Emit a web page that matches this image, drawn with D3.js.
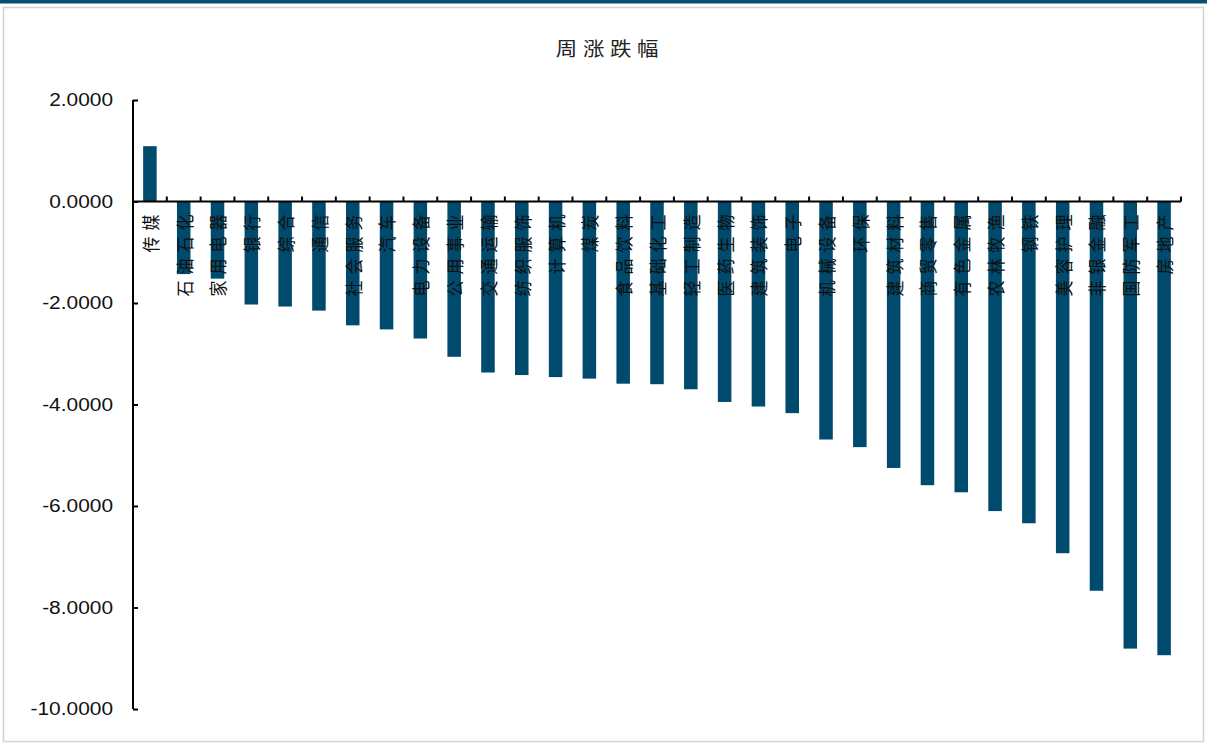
<!DOCTYPE html>
<html>
<head>
<meta charset="utf-8">
<script src="https://cdn.jsdelivr.net/npm/d3@7"></script>
<style>
  html, body { margin: 0; padding: 0; background: #fff; }
  svg { display: block; }
</style>
</head>
<body>
<svg id="chart" width="1207" height="743"></svg>
<script>
// 申万一级行业周涨跌幅（%）
const categories = ["传媒", "石油石化", "家用电器", "银行", "综合", "通信", "社会服务", "汽车", "电力设备", "公用事业",
  "交通运输", "纺织服饰", "计算机", "煤炭", "食品饮料", "基础化工", "轻工制造", "医药生物", "建筑装饰", "电子",
  "机械设备", "环保", "建筑材料", "商贸零售", "有色金属", "农林牧渔", "钢铁", "美容护理", "非银金融", "国防军工", "房地产"];
const weeklyChange = [1.09, -1.43, -1.52, -2.03, -2.07, -2.15, -2.44, -2.52, -2.70, -3.06,
  -3.37, -3.42, -3.46, -3.49, -3.59, -3.60, -3.70, -3.95, -4.04, -4.17,
  -4.69, -4.84, -5.25, -5.59, -5.73, -6.10, -6.34, -6.93, -7.67, -8.81, -8.94];
const yTicks = [2, 0, -2, -4, -6, -8, -10];
const title = "周涨跌幅";

const svg = d3.select("#chart");
const W = 1207, H = 743;
const plot = { left: 133, right: 1181, top: 100, bottom: 709 };
const barColor = "#004a6e";
const stretch = 1.13;   // text is drawn slightly wide

// page frame
svg.append("rect").attr("x", 0).attr("y", 0).attr("width", W).attr("height", 3.5).attr("fill", "#0d4b70");
svg.append("rect").attr("x", 3.5).attr("y", 7.5).attr("width", W - 7).attr("height", H - 9)
  .attr("fill", "none").attr("stroke", "#d4d4d4").attr("stroke-width", 1.5);

// title
svg.append("text")
  .attr("transform", `translate(610,48) scale(${stretch},1)`)
  .attr("text-anchor", "middle").attr("dominant-baseline", "central")
  .attr("font-family", "'Noto Sans CJK SC', sans-serif").attr("font-size", 19)
  .attr("letter-spacing", 5).attr("fill", "#222")
  .text(title);

const x = d3.scaleBand().domain(categories).range([plot.left, plot.right])
  .paddingInner(0.6).paddingOuter(0.3);
const y = d3.scaleLinear().domain([-10, 2]).range([plot.bottom, plot.top]);

// bars
svg.append("g").selectAll("rect").data(categories).join("rect")
  .attr("x", d => x(d))
  .attr("width", x.bandwidth())
  .attr("y", (d, i) => y(Math.max(0, weeklyChange[i])))
  .attr("height", (d, i) => Math.abs(y(weeklyChange[i]) - y(0)))
  .attr("fill", barColor);

// y axis with inward ticks
const fmt = d3.format(".4f");
const yAxis = d3.axisLeft(y).tickValues(yTicks).tickSize(-5)
  .tickFormat(d => fmt(d).replace("\u2212", "-"));
const gy = svg.append("g").attr("transform", `translate(${plot.left},0)`).call(yAxis);
gy.select(".domain").attr("stroke", "#000").attr("stroke-width", 2)
  .attr("d", `M0,${plot.top}V${plot.bottom}`);
gy.selectAll(".tick line").attr("stroke", "#000").attr("stroke-width", 2);
gy.selectAll(".tick text")
  .attr("x", -20 / stretch)
  .attr("transform", `scale(${stretch},1)`)
  .attr("font-family", "'Liberation Sans', Arial, sans-serif")
  .attr("font-size", 18.5).attr("fill", "#111");

// x axis line at zero with upward ticks on category boundaries
const y0 = y(0);
const gx = svg.append("g");
gx.append("line").attr("x1", plot.left).attr("x2", plot.right).attr("y1", y0).attr("y2", y0)
  .attr("stroke", "#000").attr("stroke-width", 2);
const step = x.step();
const bounds = d3.range(1, categories.length + 1).map(i => plot.left + i * step);
gx.selectAll("line.tk").data(bounds).join("line").attr("class", "tk")
  .attr("x1", d => d).attr("x2", d => d).attr("y1", y0).attr("y2", y0 - 5)
  .attr("stroke", "#000").attr("stroke-width", 2);

// category labels, rotated, hanging below the zero line
gx.selectAll("text").data(categories).join("text")
  .attr("transform", d => `translate(${x(d) + x.bandwidth() / 2},${y0 + 7}) scale(${stretch},1) rotate(-90)`)
  .attr("text-anchor", "end").attr("dominant-baseline", "central")
  .attr("font-family", "'Noto Sans CJK SC', sans-serif").attr("font-size", 16)
  .attr("letter-spacing", 6).attr("fill", "#111")
  .text(d => d);
</script>
</body>
</html>
